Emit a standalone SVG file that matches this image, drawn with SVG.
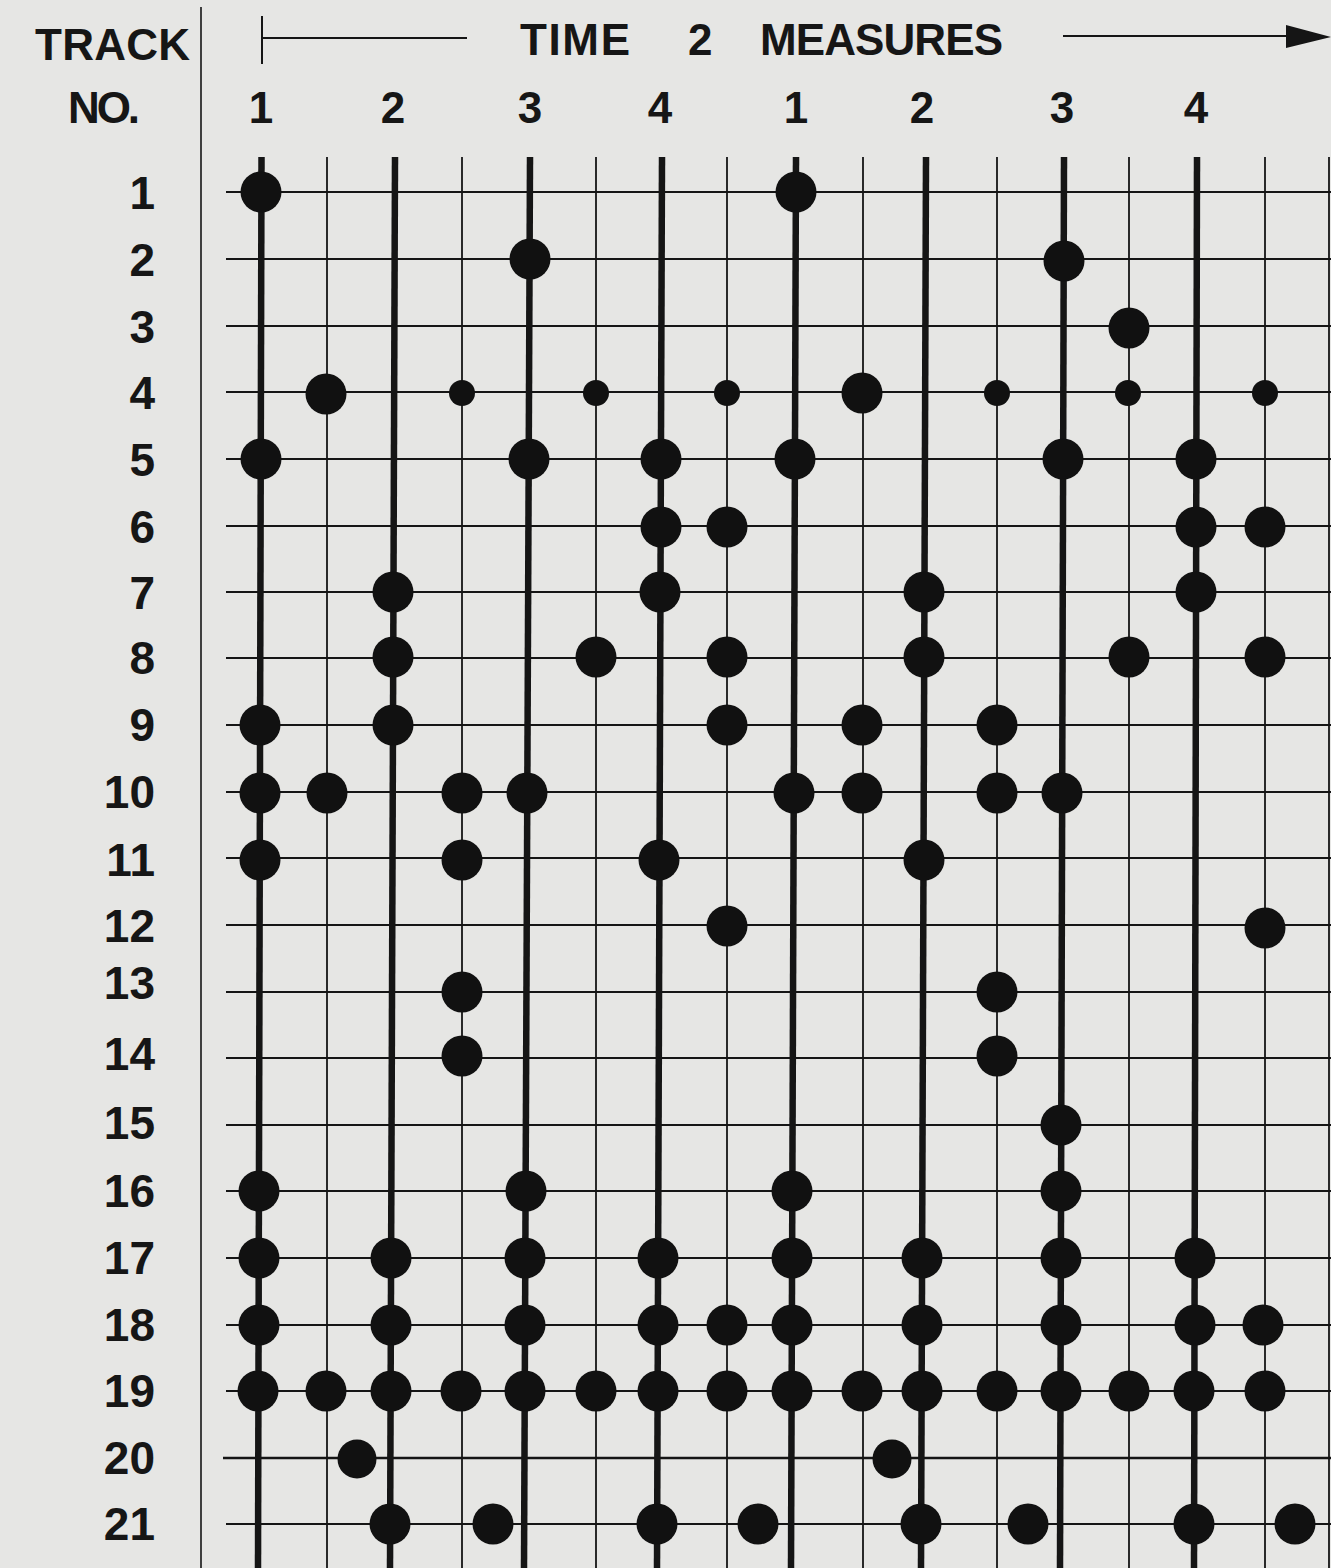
<svg xmlns="http://www.w3.org/2000/svg" width="1331" height="1568" viewBox="0 0 1331 1568">
<style>
.ink{stroke:#151515;fill:none}
.h{stroke-width:1.8}
.v{stroke-width:1.8}
.k{stroke-width:6.5}
.d{fill:#111}
.t{font-family:"Liberation Sans",Arial,sans-serif;font-weight:700;fill:#161616}
.r{font-size:46px;text-anchor:end}
.c{font-size:44px;text-anchor:middle}
.hd{font-size:44px}
</style>
<rect width="1331" height="1568" fill="#e6e6e4"/>
<g id="header">
  <text class="t hd" x="35" y="60" textLength="155" lengthAdjust="spacing">TRACK</text>
  <text class="t hd" x="68" y="123" textLength="72" lengthAdjust="spacing">NO.</text>
  <text class="t hd" x="520" y="55" textLength="110" lengthAdjust="spacing">TIME</text>
  <text class="t hd" x="688" y="55">2</text>
  <text class="t hd" x="760" y="55" textLength="243" lengthAdjust="spacing">MEASURES</text>
  <line class="ink" x1="201" y1="7" x2="201" y2="1568" stroke-width="1.6"/>
  <line class="ink" x1="262" y1="16" x2="262" y2="64" stroke-width="2"/>
  <line class="ink" x1="262" y1="38" x2="467" y2="38" stroke-width="2"/>
  <line class="ink" x1="1063" y1="36" x2="1292" y2="36" stroke-width="2"/>
  <polygon points="1286,25 1331,37 1286,48" fill="#151515"/>
</g>
<g id="beat-numbers" class="t c">
  <text x="261" y="123">1</text>
  <text x="393" y="123">2</text>
  <text x="530" y="123">3</text>
  <text x="660" y="123">4</text>
  <text x="796" y="123">1</text>
  <text x="922" y="123">2</text>
  <text x="1062" y="123">3</text>
  <text x="1196" y="123">4</text>
</g>
<g id="track-labels" class="t r">
  <text x="155" y="209">1</text>
  <text x="155" y="276">2</text>
  <text x="155" y="343">3</text>
  <text x="155" y="409">4</text>
  <text x="155" y="476">5</text>
  <text x="155" y="543">6</text>
  <text x="155" y="609">7</text>
  <text x="155" y="674">8</text>
  <text x="155" y="741">9</text>
  <text x="155" y="808">10</text>
  <text x="155" y="876">11</text>
  <text x="155" y="942">12</text>
  <text x="155" y="999">13</text>
  <text x="155" y="1070">14</text>
  <text x="155" y="1139">15</text>
  <text x="155" y="1207">16</text>
  <text x="155" y="1274">17</text>
  <text x="155" y="1341">18</text>
  <text x="155" y="1407">19</text>
  <text x="155" y="1474">20</text>
  <text x="155" y="1540">21</text>
</g>
<g id="connectors">
  <g id="track-lines" class="ink h">
    <line x1="226" y1="192" x2="1331" y2="192"/>
    <line x1="226" y1="259" x2="1331" y2="259"/>
    <line x1="226" y1="326" x2="1331" y2="326"/>
    <line x1="226" y1="392" x2="1331" y2="392"/>
    <line x1="226" y1="459" x2="1331" y2="459"/>
    <line x1="226" y1="526" x2="1331" y2="526"/>
    <line x1="226" y1="592" x2="1331" y2="592"/>
    <line x1="226" y1="658" x2="1331" y2="658"/>
    <line x1="226" y1="725" x2="1331" y2="725"/>
    <line x1="226" y1="792" x2="1331" y2="792"/>
    <line x1="226" y1="858" x2="1331" y2="858"/>
    <line x1="226" y1="925" x2="1331" y2="925"/>
    <line x1="226" y1="992" x2="1331" y2="992"/>
    <line x1="226" y1="1058" x2="1331" y2="1058"/>
    <line x1="226" y1="1125" x2="1331" y2="1125"/>
    <line x1="226" y1="1191" x2="1331" y2="1191"/>
    <line x1="226" y1="1258" x2="1331" y2="1258"/>
    <line x1="226" y1="1325" x2="1331" y2="1325"/>
    <line x1="226" y1="1391" x2="1331" y2="1391"/>
    <line x1="223" y1="1458" x2="1331" y2="1458" stroke-width="2.6"/>
    <line x1="226" y1="1524" x2="1331" y2="1524"/>
  </g>
  <g id="half-beat-lines" class="ink v">
    <line x1="327" y1="157" x2="327" y2="1568"/>
    <line x1="462" y1="157" x2="462" y2="1568"/>
    <line x1="596" y1="157" x2="596" y2="1568"/>
    <line x1="727" y1="157" x2="727" y2="1568"/>
    <line x1="863" y1="157" x2="863" y2="1568"/>
    <line x1="997" y1="157" x2="997" y2="1568"/>
    <line x1="1129" y1="157" x2="1129" y2="1568"/>
    <line x1="1265" y1="157" x2="1265" y2="1568"/>
    <line x1="1329" y1="157" x2="1329" y2="1568"/>
  </g>
  <g id="beat-lines" class="ink k">
    <line x1="261.5" y1="157" x2="258" y2="1568"/>
    <line x1="395" y1="157" x2="390" y2="1568"/>
    <line x1="530" y1="157" x2="524" y2="1568"/>
    <line x1="662" y1="157" x2="657" y2="1568"/>
    <line x1="796" y1="157" x2="791" y2="1568"/>
    <line x1="926" y1="157" x2="921" y2="1568"/>
    <line x1="1064" y1="157" x2="1060" y2="1568"/>
    <line x1="1197" y1="157" x2="1194" y2="1568"/>
  </g>
</g>
<g id="notes" class="d">
  <g id="track-1"><circle cx="261" cy="192" r="20.5"/><circle cx="796" cy="192" r="20.5"/></g>
  <g id="track-2"><circle cx="530" cy="259" r="20.5"/><circle cx="1064" cy="261" r="20.5"/></g>
  <g id="track-3"><circle cx="1129" cy="328" r="20.5"/></g>
  <g id="track-4"><circle cx="326" cy="394" r="20.5"/><circle cx="462" cy="393" r="13"/><circle cx="596" cy="393" r="13"/><circle cx="727" cy="393" r="13"/><circle cx="862" cy="393" r="20.5"/><circle cx="997" cy="393" r="13"/><circle cx="1128" cy="393" r="13"/><circle cx="1265" cy="393" r="13"/></g>
  <g id="track-5"><circle cx="261" cy="459" r="20.5"/><circle cx="529" cy="459" r="20.5"/><circle cx="661" cy="459" r="20.5"/><circle cx="795" cy="459" r="20.5"/><circle cx="1063" cy="459" r="20.5"/><circle cx="1196" cy="459" r="20.5"/></g>
  <g id="track-6"><circle cx="661" cy="527" r="20.5"/><circle cx="727" cy="527" r="20.5"/><circle cx="1196" cy="527" r="20.5"/><circle cx="1265" cy="527" r="20.5"/></g>
  <g id="track-7"><circle cx="393" cy="592" r="20.5"/><circle cx="660" cy="592" r="20.5"/><circle cx="924" cy="592" r="20.5"/><circle cx="1196" cy="592" r="20.5"/></g>
  <g id="track-8"><circle cx="393" cy="657" r="20.5"/><circle cx="596" cy="657" r="20.5"/><circle cx="727" cy="657" r="20.5"/><circle cx="924" cy="657" r="20.5"/><circle cx="1129" cy="657" r="20.5"/><circle cx="1265" cy="657" r="20.5"/></g>
  <g id="track-9"><circle cx="260" cy="725" r="20.5"/><circle cx="393" cy="725" r="20.5"/><circle cx="727" cy="725" r="20.5"/><circle cx="862" cy="725" r="20.5"/><circle cx="997" cy="725" r="20.5"/></g>
  <g id="track-10"><circle cx="260" cy="793" r="20.5"/><circle cx="327" cy="793" r="20.5"/><circle cx="462" cy="793" r="20.5"/><circle cx="527" cy="793" r="20.5"/><circle cx="794" cy="793" r="20.5"/><circle cx="862" cy="793" r="20.5"/><circle cx="997" cy="793" r="20.5"/><circle cx="1062" cy="793" r="20.5"/></g>
  <g id="track-11"><circle cx="260" cy="860" r="20.5"/><circle cx="462" cy="860" r="20.5"/><circle cx="659" cy="860" r="20.5"/><circle cx="924" cy="860" r="20.5"/></g>
  <g id="track-12"><circle cx="727" cy="926" r="20.5"/><circle cx="1265" cy="928" r="20.5"/></g>
  <g id="track-13"><circle cx="462" cy="992" r="20.5"/><circle cx="997" cy="992" r="20.5"/></g>
  <g id="track-14"><circle cx="462" cy="1056" r="20.5"/><circle cx="997" cy="1056" r="20.5"/></g>
  <g id="track-15"><circle cx="1061" cy="1125" r="20.5"/></g>
  <g id="track-16"><circle cx="259" cy="1191" r="20.5"/><circle cx="526" cy="1191" r="20.5"/><circle cx="792" cy="1191" r="20.5"/><circle cx="1061" cy="1191" r="20.5"/></g>
  <g id="track-17"><circle cx="259" cy="1258" r="20.5"/><circle cx="391" cy="1258" r="20.5"/><circle cx="525" cy="1258" r="20.5"/><circle cx="658" cy="1258" r="20.5"/><circle cx="792" cy="1258" r="20.5"/><circle cx="922" cy="1258" r="20.5"/><circle cx="1061" cy="1258" r="20.5"/><circle cx="1195" cy="1258" r="20.5"/></g>
  <g id="track-18"><circle cx="259" cy="1325" r="20.5"/><circle cx="391" cy="1325" r="20.5"/><circle cx="525" cy="1325" r="20.5"/><circle cx="658" cy="1325" r="20.5"/><circle cx="727" cy="1325" r="20.5"/><circle cx="792" cy="1325" r="20.5"/><circle cx="922" cy="1325" r="20.5"/><circle cx="1061" cy="1325" r="20.5"/><circle cx="1195" cy="1325" r="20.5"/><circle cx="1263" cy="1325" r="20.5"/></g>
  <g id="track-19"><circle cx="258" cy="1391" r="20.5"/><circle cx="326" cy="1391" r="20.5"/><circle cx="391" cy="1391" r="20.5"/><circle cx="461" cy="1391" r="20.5"/><circle cx="525" cy="1391" r="20.5"/><circle cx="596" cy="1391" r="20.5"/><circle cx="658" cy="1391" r="20.5"/><circle cx="727" cy="1391" r="20.5"/><circle cx="792" cy="1391" r="20.5"/><circle cx="862" cy="1391" r="20.5"/><circle cx="922" cy="1391" r="20.5"/><circle cx="997" cy="1391" r="20.5"/><circle cx="1061" cy="1391" r="20.5"/><circle cx="1129" cy="1391" r="20.5"/><circle cx="1194" cy="1391" r="20.5"/><circle cx="1265" cy="1391" r="20.5"/></g>
  <g id="track-20"><circle cx="357" cy="1459" r="19.5"/><circle cx="892" cy="1459" r="19.5"/></g>
  <g id="track-21"><circle cx="390" cy="1524" r="20.5"/><circle cx="493" cy="1524" r="20.5"/><circle cx="657" cy="1524" r="20.5"/><circle cx="758" cy="1524" r="20.5"/><circle cx="921" cy="1524" r="20.5"/><circle cx="1028" cy="1524" r="20.5"/><circle cx="1194" cy="1524" r="20.5"/><circle cx="1295" cy="1524" r="20.5"/></g>
</g>
</svg>
